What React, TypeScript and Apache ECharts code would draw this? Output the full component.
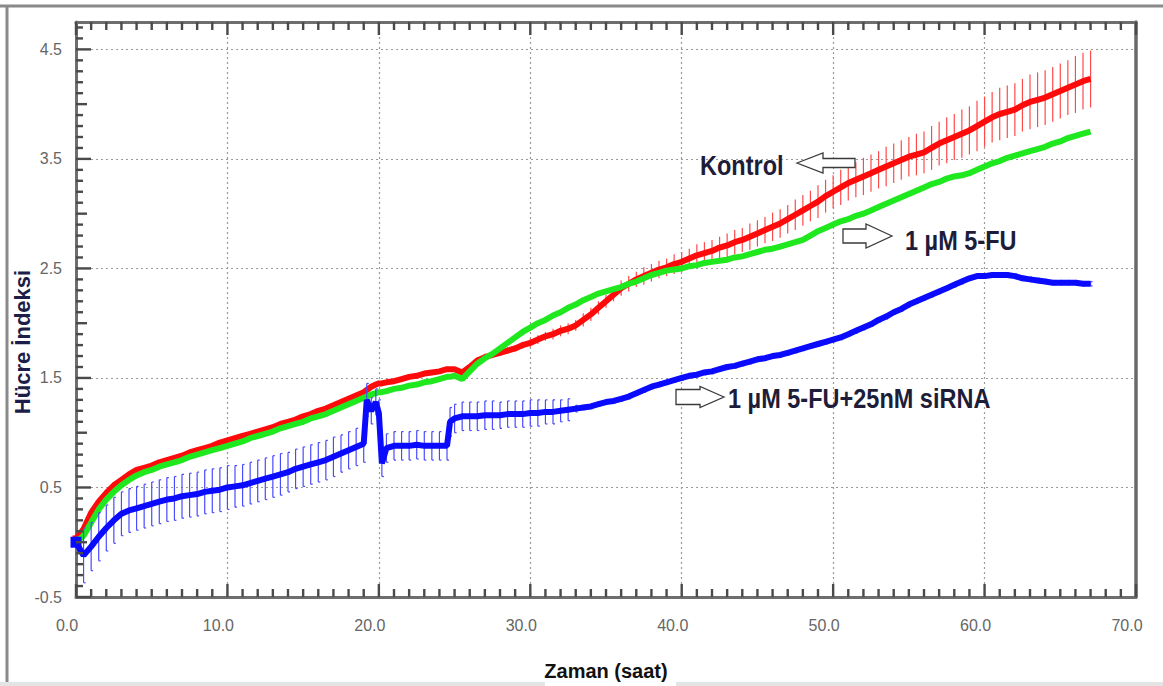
import React, { useEffect, useRef } from "react";
import * as echarts from "echarts";

// Time (hours)
const hours = [
  0, 0.5, 1, 1.5, 2, 2.5, 3, 3.5, 4, 4.5, 5, 5.5, 6, 6.5, 7, 7.5, 8, 8.5, 9, 9.5,
  10, 10.5, 11, 11.5, 12, 12.5, 13, 13.5, 14, 14.5, 15, 15.5, 16, 16.5, 17, 17.5, 18, 18.5, 19,
  19.2, 19.5, 19.8, 20, 20.2, 20.5, 21, 21.5, 22, 22.5, 23, 23.5, 24, 24.5, 24.7, 25,
  25.5, 26, 26.5, 27, 27.5, 28, 28.5, 29, 29.5, 30,
  30.5, 31, 31.5, 32, 32.5, 33, 33.5, 34, 34.5, 35,
  35.5, 36, 36.5, 37, 37.5, 38, 38.5, 39, 39.5, 40,
  40.5, 41, 41.5, 42, 42.5, 43, 43.5, 44, 44.5, 45,
  45.5, 46, 46.5, 47, 47.5, 48, 48.5, 49, 49.5, 50,
  50.5, 51, 51.5, 52, 52.5, 53, 53.5, 54, 54.5, 55,
  55.5, 56, 56.5, 57, 57.5, 58, 58.5, 59, 59.5, 60,
  60.5, 61, 61.5, 62, 62.5, 63, 63.5, 64, 64.5, 65,
  65.5, 66, 66.5, 67,
];

// Kontrol (red)
const kontrol = [
  0.03, 0.12, 0.27, 0.37, 0.45, 0.52, 0.57, 0.62, 0.66, 0.68, 0.70, 0.73, 0.75, 0.77, 0.79, 0.82, 0.84, 0.86, 0.88, 0.91,
  0.93, 0.95, 0.97, 0.99, 1.01, 1.03, 1.05, 1.08, 1.10, 1.12, 1.15, 1.17, 1.20, 1.22, 1.25, 1.28, 1.31, 1.34, 1.37,
  1.39, 1.42, 1.44, 1.45, 1.45, 1.46, 1.47, 1.49, 1.51, 1.52, 1.54, 1.55, 1.56, 1.58, 1.58, 1.58,
  1.55, 1.60, 1.66, 1.69, 1.71, 1.73, 1.75, 1.77, 1.80, 1.82,
  1.85, 1.88, 1.90, 1.93, 1.95, 1.98, 2.03, 2.08, 2.14, 2.20,
  2.26, 2.32, 2.36, 2.40, 2.43, 2.46, 2.49, 2.51, 2.54, 2.56,
  2.59, 2.62, 2.64, 2.66, 2.69, 2.71, 2.74, 2.76, 2.79, 2.82,
  2.85, 2.88, 2.91, 2.95, 2.99, 3.03, 3.07, 3.11, 3.16, 3.20,
  3.24, 3.28, 3.31, 3.34, 3.37, 3.40, 3.43, 3.46, 3.49, 3.52,
  3.54, 3.56, 3.60, 3.64, 3.67, 3.70, 3.73, 3.76, 3.80, 3.84,
  3.88, 3.91, 3.93, 3.95, 3.99, 4.02, 4.04, 4.06, 4.09, 4.12,
  4.15, 4.18, 4.21, 4.23,
];
const kontrolErr = [
  0.02, 0.02, 0.02, 0.02, 0.02, 0.02, 0.02, 0.02, 0.02, 0.02, 0.02, 0.02, 0.02, 0.02, 0.02, 0.02, 0.02, 0.02, 0.02, 0.02,
  0.02, 0.02, 0.02, 0.02, 0.02, 0.02, 0.02, 0.02, 0.02, 0.02, 0.02, 0.02, 0.02, 0.02, 0.02, 0.02, 0.02, 0.02, 0.02,
  0.02, 0.02, 0.02, 0.02, 0.02, 0.02, 0.02, 0.02, 0.02, 0.02, 0.02, 0.02, 0.02, 0.02, 0.02, 0.02,
  0.03, 0.03, 0.03, 0.03, 0.03, 0.03, 0.03, 0.03, 0.03, 0.04,
  0.04, 0.04, 0.05, 0.05, 0.05, 0.05, 0.06, 0.06, 0.06, 0.06,
  0.06, 0.07, 0.07, 0.07, 0.08, 0.08, 0.08, 0.08, 0.09, 0.09,
  0.09, 0.10, 0.10, 0.10, 0.10, 0.11, 0.11, 0.11, 0.12, 0.12,
  0.12, 0.13, 0.13, 0.13, 0.14, 0.14, 0.14, 0.15, 0.15, 0.15,
  0.16, 0.16, 0.16, 0.17, 0.17, 0.17, 0.18, 0.18, 0.18, 0.18,
  0.19, 0.19, 0.20, 0.20, 0.21, 0.21, 0.22, 0.22, 0.23, 0.23,
  0.23, 0.24, 0.24, 0.24, 0.24, 0.25, 0.25, 0.25, 0.25, 0.25,
  0.25, 0.26, 0.26, 0.26,
];

// 1 µM 5-FU (green)
const fu = [
  0.00, 0.06, 0.18, 0.30, 0.39, 0.46, 0.52, 0.57, 0.61, 0.64, 0.66, 0.69, 0.71, 0.73, 0.75, 0.78, 0.80, 0.82, 0.84, 0.86,
  0.88, 0.90, 0.92, 0.95, 0.97, 0.99, 1.01, 1.04, 1.06, 1.08, 1.10, 1.13, 1.15, 1.17, 1.20, 1.23, 1.26, 1.29, 1.32,
  1.33, 1.35, 1.36, 1.37, 1.37, 1.38, 1.40, 1.41, 1.43, 1.44, 1.46, 1.47, 1.49, 1.51, 1.51, 1.52,
  1.49, 1.56, 1.63, 1.68, 1.72, 1.77, 1.82, 1.87, 1.92, 1.96,
  2.00, 2.03, 2.07, 2.10, 2.14, 2.17, 2.21, 2.24, 2.27, 2.29,
  2.31, 2.33, 2.36, 2.38, 2.41, 2.44, 2.46, 2.48, 2.49, 2.50,
  2.52, 2.53, 2.55, 2.56, 2.57, 2.58, 2.60, 2.61, 2.63, 2.65,
  2.67, 2.68, 2.70, 2.72, 2.74, 2.76, 2.80, 2.84, 2.87, 2.90,
  2.93, 2.95, 2.98, 3.00, 3.03, 3.06, 3.09, 3.12, 3.15, 3.18,
  3.21, 3.24, 3.27, 3.29, 3.32, 3.34, 3.35, 3.37, 3.40, 3.43,
  3.46, 3.48, 3.51, 3.53, 3.55, 3.57, 3.59, 3.61, 3.64, 3.66,
  3.69, 3.71, 3.73, 3.75,
];

// 1 µM 5-FU + 25nM siRNA (blue)
const fuSirna = [
  0.00, -0.12, -0.04, 0.05, 0.13, 0.20, 0.26, 0.29, 0.31, 0.33, 0.35, 0.37, 0.39, 0.40, 0.42, 0.43, 0.44, 0.46, 0.47, 0.48,
  0.50, 0.51, 0.52, 0.54, 0.56, 0.58, 0.60, 0.62, 0.64, 0.67, 0.69, 0.71, 0.73, 0.75, 0.78, 0.81, 0.84, 0.87, 0.90,
  1.30, 1.20, 1.28, 1.18, 0.72, 0.86, 0.88, 0.88, 0.88, 0.89, 0.88, 0.88, 0.88, 0.88, 1.10, 1.13,
  1.15, 1.15, 1.15, 1.16, 1.16, 1.16, 1.17, 1.17, 1.17, 1.18,
  1.18, 1.19, 1.19, 1.20, 1.21, 1.22, 1.23, 1.24, 1.26, 1.28,
  1.29, 1.31, 1.33, 1.36, 1.39, 1.42, 1.44, 1.46, 1.48, 1.50,
  1.52, 1.53, 1.55, 1.56, 1.58, 1.60, 1.61, 1.63, 1.65, 1.67,
  1.68, 1.70, 1.71, 1.73, 1.75, 1.77, 1.79, 1.81, 1.83, 1.85,
  1.87, 1.90, 1.93, 1.96, 1.99, 2.03, 2.06, 2.10, 2.13, 2.17,
  2.20, 2.23, 2.26, 2.29, 2.32, 2.35, 2.38, 2.41, 2.43, 2.43,
  2.44, 2.44, 2.44, 2.43, 2.41, 2.40, 2.39, 2.38, 2.37, 2.37,
  2.37, 2.37, 2.36, 2.36,
];
const fuSirnaErr = [
  0.05, 0.25, 0.22, 0.22, 0.21, 0.21, 0.20, 0.20, 0.20, 0.20, 0.20, 0.20, 0.20, 0.20, 0.20, 0.20, 0.20, 0.20, 0.20, 0.20,
  0.20, 0.19, 0.19, 0.19, 0.19, 0.19, 0.19, 0.19, 0.18, 0.18, 0.18, 0.18, 0.18, 0.18, 0.18, 0.17, 0.17, 0.17, 0.17,
  0.15, 0.12, 0.12, 0.12, 0.12, 0.13, 0.13, 0.13, 0.13, 0.13, 0.13, 0.13, 0.13, 0.13, 0.13, 0.13,
  0.13, 0.13, 0.13, 0.13, 0.13, 0.12, 0.12, 0.12, 0.12, 0.12,
  0.12, 0.11, 0.11, 0.10, 0.10, 0.03, 0.02, 0.02, 0.02, 0.02,
  0.02, 0.02, 0.02, 0.02, 0.02, 0.02, 0.02, 0.02, 0.02, 0.02,
  0.02, 0.02, 0.02, 0.02, 0.02, 0.02, 0.02, 0.02, 0.02, 0.02,
  0.02, 0.02, 0.02, 0.02, 0.02, 0.02, 0.02, 0.02, 0.02, 0.02,
  0.02, 0.02, 0.02, 0.02, 0.02, 0.02, 0.02, 0.02, 0.02, 0.02,
  0.02, 0.02, 0.02, 0.02, 0.02, 0.02, 0.02, 0.02, 0.02, 0.02,
  0.02, 0.02, 0.02, 0.02, 0.02, 0.02, 0.02, 0.02, 0.02, 0.02,
  0.02, 0.02, 0.02, 0.02,
];

const X_MIN = 0;
const X_MAX = 70;
const Y_MIN = -0.5;
const Y_MAX = 4.75;
const yLabelValues = [-0.5, 0.5, 1.5, 2.5, 3.5, 4.5];
const yGridValues = [0.5, 1.5, 2.5, 3.5, 4.5];
const seriesNames = ["Kontrol", "1 µM 5-FU", "1 µM 5-FU+25nM siRNA"];
const xTitle = "Zaman (saat)";
const yTitle = "Hücre İndeksi";

const NARROW = "'Liberation Sans Narrow', 'Liberation Sans', Arial, sans-serif";
const SANS = "'Liberation Sans', Arial, sans-serif";

const RED = "#ff0a0a";
const GREEN = "#1fe81f";
const BLUE = "#0a0aff";
const TICK = "#4a4a4a";

function errRender(color: string, cap: number) {
  return (params: any, api: any) => {
    const t = api.value(0);
    const v = api.value(1);
    const e = api.value(2);
    const top = api.coord([t, v + e]);
    const bot = api.coord([t, v - e]);
    const children: any[] = [
      { type: "line", shape: { x1: top[0], y1: top[1], x2: bot[0], y2: bot[1] }, style: { stroke: color, lineWidth: 1.2 } },
    ];
    if (cap > 0) {
      children.push({ type: "line", shape: { x1: bot[0], y1: bot[1], x2: bot[0] + cap, y2: bot[1] }, style: { stroke: color, lineWidth: 1.2 } });
      children.push({ type: "line", shape: { x1: top[0], y1: top[1], x2: top[0] + cap, y2: top[1] }, style: { stroke: color, lineWidth: 1.2 } });
    }
    return { type: "group", children };
  };
}

// Frame ticks (inside), positioned with the axes' own scales.
function tickRender(params: any, api: any) {
  const children: any[] = [];
  const seg = (x1: number, y1: number, x2: number, y2: number) =>
    children.push({ type: "line", shape: { x1, y1, x2, y2 }, style: { stroke: TICK, lineWidth: 2.4 } });
  for (let i = 0; i <= 70; i++) {
    const xv = X_MIN + i;
    const len = i % 10 === 0 ? 13 : 8;
    const b = api.coord([xv, Y_MIN]);
    const t = api.coord([xv, Y_MAX]);
    seg(b[0], b[1], b[0], b[1] - len);
    seg(t[0], t[1], t[0], t[1] + len);
  }
  for (let j = 0; j <= 52; j++) {
    const yv = Math.round((Y_MIN + j * 0.1) * 10) / 10;
    const k = j % 10;
    const len = k === 0 ? 15 : k === 5 ? 11 : 7;
    const l = api.coord([X_MIN, yv]);
    seg(l[0], l[1], l[0] + len, l[1]);
  }
  return { type: "group", children };
}

function arrow(tipX: number, baseX: number, tailX: number, cy: number, headH: number, shaftH: number) {
  return {
    type: "polygon",
    shape: {
      points: [
        [tipX, cy],
        [baseX, cy - headH],
        [baseX, cy - shaftH],
        [tailX, cy - shaftH],
        [tailX, cy + shaftH],
        [baseX, cy + shaftH],
        [baseX, cy + headH],
      ],
    },
    style: { fill: "#ffffff", stroke: "#3a3a3a", lineWidth: 1.3 },
    z: 20,
  };
}

export default function App() {
  const ref = useRef<HTMLDivElement>(null);
  useEffect(() => {
    if (!ref.current) return;
    const chart = echarts.init(ref.current, null, { renderer: "svg" });
    const line = (vals: number[], first: any) =>
      hours.map((t, i) => (i === 0 ? { value: [t, vals[i]], ...first } : [t, vals[i]]));
    const withErr = (vals: number[], errs: number[]) => hours.map((t, i) => [t, vals[i], errs[i]]);

    const axisColor = "#6e6e6e";
    const option: any = {
      animation: false,
      backgroundColor: "#ffffff",
      grid: { left: 76, right: 27, top: 22, bottom: 89, containLabel: false },
      xAxis: [
        {
          type: "value",
          min: X_MIN,
          max: X_MAX,
          interval: 10,
          position: "bottom",
          name: xTitle,
          nameLocation: "middle",
          nameGap: 64,
          nameTextStyle: { fontFamily: NARROW, fontWeight: "bold", fontSize: 20, color: "#111" },
          axisLine: { show: true, onZero: false, lineStyle: { color: axisColor, width: 3 } },
          axisTick: { show: false },
          axisLabel: {
            formatter: (v: number) => v.toFixed(1),
            fontFamily: NARROW,
            fontSize: 16,
            color: "#666",
            margin: 20,
            padding: [0, 18, 0, 0],
          },
          splitLine: { show: true, lineStyle: { color: "#9a9a9a", type: [2, 3], width: 1.2 } },
        },
        {
          type: "value",
          min: X_MIN,
          max: X_MAX,
          interval: 10,
          position: "top",
          axisLine: { show: true, onZero: false, lineStyle: { color: axisColor, width: 3 } },
          axisTick: { show: false },
          axisLabel: { show: false },
          splitLine: { show: false },
        },
      ],
      yAxis: [
        {
          type: "value",
          min: Y_MIN,
          max: Y_MAX,
          interval: 0.5,
          position: "left",
          axisLine: { show: true, onZero: false, lineStyle: { color: axisColor, width: 3 } },
          axisTick: { show: false },
          axisLabel: {
            formatter: (v: number) => (yLabelValues.some((y) => Math.abs(y - v) < 1e-6) ? v.toFixed(1) : ""),
            fontFamily: NARROW,
            fontSize: 16,
            color: "#666",
            margin: 14,
            padding: [0, 0, 8, 0],
          },
          splitLine: { show: false },
        },
        {
          type: "value",
          min: Y_MIN,
          max: Y_MAX,
          interval: 0.5,
          position: "right",
          axisLine: { show: true, onZero: false, lineStyle: { color: "#6a6a6a", width: 3.5 } },
          axisTick: { show: false },
          axisLabel: { show: false },
          splitLine: { show: false },
        },
      ],
      series: [
        {
          type: "custom",
          name: "ticks",
          renderItem: tickRender,
          data: [[X_MIN, Y_MIN]],
          encode: { x: 0, y: 1 },
          clip: false,
          silent: true,
          z: 8,
        },
        {
          type: "custom",
          name: seriesNames[0] + " err",
          renderItem: errRender("#ff4a4a", 0),
          data: withErr(kontrol, kontrolErr),
          encode: { x: 0, y: 1 },
          silent: true,
          z: 2,
        },
        {
          type: "line",
          name: seriesNames[0],
          data: line(kontrol, { symbol: "rect", symbolSize: 7 }),
          symbol: "none",
          lineStyle: { color: RED, width: 6 },
          itemStyle: { color: RED },
          z: 3,
          silent: true,
          markLine: {
            silent: true,
            symbol: "none",
            z: 1,
            label: { show: false },
            lineStyle: { color: "#9a9a9a", type: [2, 3], width: 1.2 },
            data: yGridValues.map((y) => ({ yAxis: y })),
          },
        },
        {
          type: "line",
          name: seriesNames[1],
          data: line(fu, { symbol: "rect", symbolSize: 7 }),
          symbol: "none",
          lineStyle: { color: GREEN, width: 6 },
          itemStyle: { color: GREEN },
          z: 4,
          silent: true,
        },
        {
          type: "custom",
          name: seriesNames[2] + " err",
          renderItem: errRender("#4a4aff", 2),
          data: withErr(fuSirna, fuSirnaErr),
          encode: { x: 0, y: 1 },
          silent: true,
          z: 5,
        },
        {
          type: "line",
          name: seriesNames[2],
          data: line(fuSirna, { symbol: "rect", symbolSize: 11 }),
          symbol: "none",
          lineStyle: { color: BLUE, width: 6 },
          itemStyle: { color: BLUE },
          z: 6,
          silent: true,
        },
      ],
      graphic: [
        { type: "line", shape: { x1: 0, y1: 6, x2: 1163, y2: 6 }, style: { stroke: "#8a8a8a", lineWidth: 3 }, z: 30 },
        { type: "line", shape: { x1: 7, y1: 6, x2: 7, y2: 683 }, style: { stroke: "#8a8a8a", lineWidth: 3 }, z: 30 },
        { type: "rect", shape: { x: 0, y: 682, width: 545, height: 4 }, style: { fill: "#e4e4e4" }, z: 30 },
        { type: "rect", shape: { x: 676, y: 682, width: 487, height: 4 }, style: { fill: "#e4e4e4" }, z: 30 },
        {
          type: "text",
          x: 22,
          y: 342,
          rotation: Math.PI / 2,
          style: { text: yTitle, fontFamily: SANS, fontWeight: "bold", fontSize: 22, fill: "#1d1d4a", align: "center", verticalAlign: "middle" },
          z: 30,
        },
        arrow(797, 823, 855, 163, 10, 4.5),
        arrow(892, 866, 843, 236, 12, 7),
        arrow(724, 700, 676, 397, 10.5, 7.5),
        {
          type: "text",
          x: 700,
          y: 165,
          scaleX: 0.84,
          style: { text: seriesNames[0], fontFamily: SANS, fontWeight: "bold", fontSize: 28, fill: "#1d1d3a", align: "left", verticalAlign: "middle" },
          z: 30,
        },
        {
          type: "text",
          x: 905,
          y: 240,
          scaleX: 0.84,
          style: { text: seriesNames[1], fontFamily: SANS, fontWeight: "bold", fontSize: 28, fill: "#1d1d3a", align: "left", verticalAlign: "middle" },
          z: 30,
        },
        {
          type: "text",
          x: 728,
          y: 398,
          scaleX: 0.84,
          style: { text: seriesNames[2], fontFamily: SANS, fontWeight: "bold", fontSize: 28, fill: "#1d1d3a", align: "left", verticalAlign: "middle" },
          z: 30,
        },
      ],
    };
    chart.setOption(option);
    return () => chart.dispose();
  }, []);
  return (
    <div
      ref={ref}
      style={{ position: "fixed", left: 0, top: 0, width: 1163, height: 686, background: "#fff" }}
    />
  );
}
